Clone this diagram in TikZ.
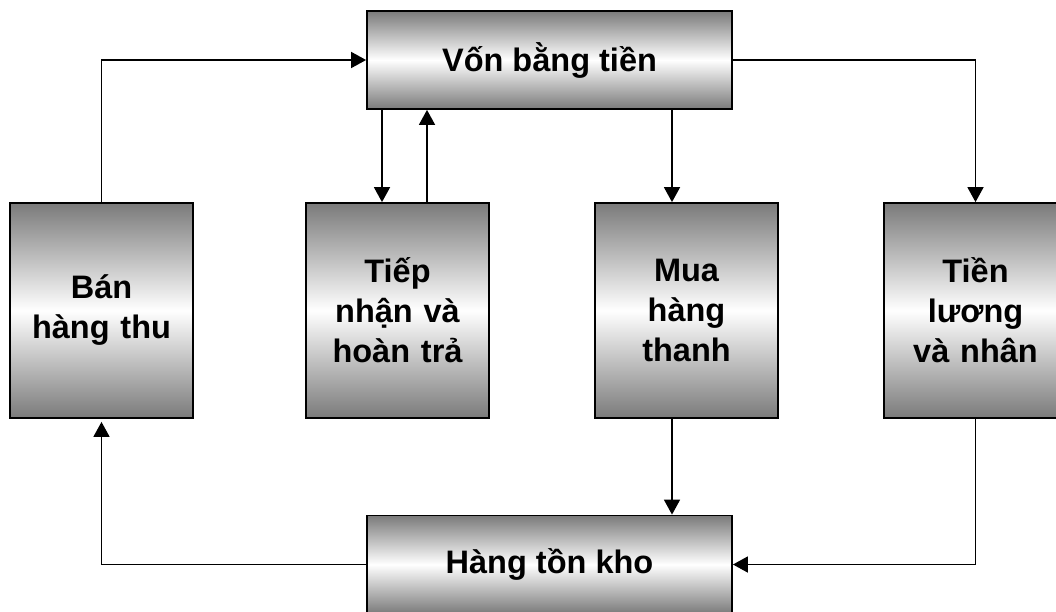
\documentclass[tikz,border=0pt]{standalone}
\usepackage{fontspec}
\setmainfont{Liberation Sans}
\usetikzlibrary{arrows.meta}
\begin{document}
\begin{tikzpicture}[x=1pt,y=-1pt,
  box/.style={draw=black,line width=1.8pt,rectangle,
    top color=black!52,bottom color=black!52,middle color=white,
    inner sep=0pt,align=center,
    font=\fontsize{32.5}{40}\selectfont\bfseries},
  wide/.style={box,minimum width=365pt,minimum height=98pt},
  tall/.style={box,minimum width=183pt,minimum height=215pt,text width=170pt},
  link/.style={line width=1.7pt,-{Triangle[width=16pt,length=15pt]}}]
\useasboundingbox (0,0) rectangle (1056,611);

% boxes
\node[wide] (von) at (549.5,60) {Vốn bằng tiền};
\node[tall] (ban) at (101.5,310.5) {Bán\\hàng thu};
\node[tall] (tiep) at (397.5,310.5) {Tiếp\\nhận và\\hoàn trả};
\node[tall] (mua) at (686.5,310.5) {Mua\\hàng\\thanh};
\node[tall] (luong) at (975.5,310.5) {Tiền\\lương\\và nhân};
\node[wide] (kho) at (549.5,564.5) {Hàng tồn kho};

% connectors
\draw[link] (ban.north) |- (von.west);
\draw[link] (von.south -| 382,0) -- (tiep.north -| 382,0);
\draw[link] (tiep.north -| 427,0) -- (von.south -| 427,0);
\draw[link] (von.south -| 672,0) -- (mua.north -| 672,0);
\draw[link] (von.east) -| (luong.north);
\draw[link] (mua.south -| 672,0) -- (kho.north -| 672,0);
\draw[link] (luong.south) |- (kho.east);
\draw[link,shorten >=3pt] (kho.west) -| (ban.south);
\end{tikzpicture}
\end{document}
